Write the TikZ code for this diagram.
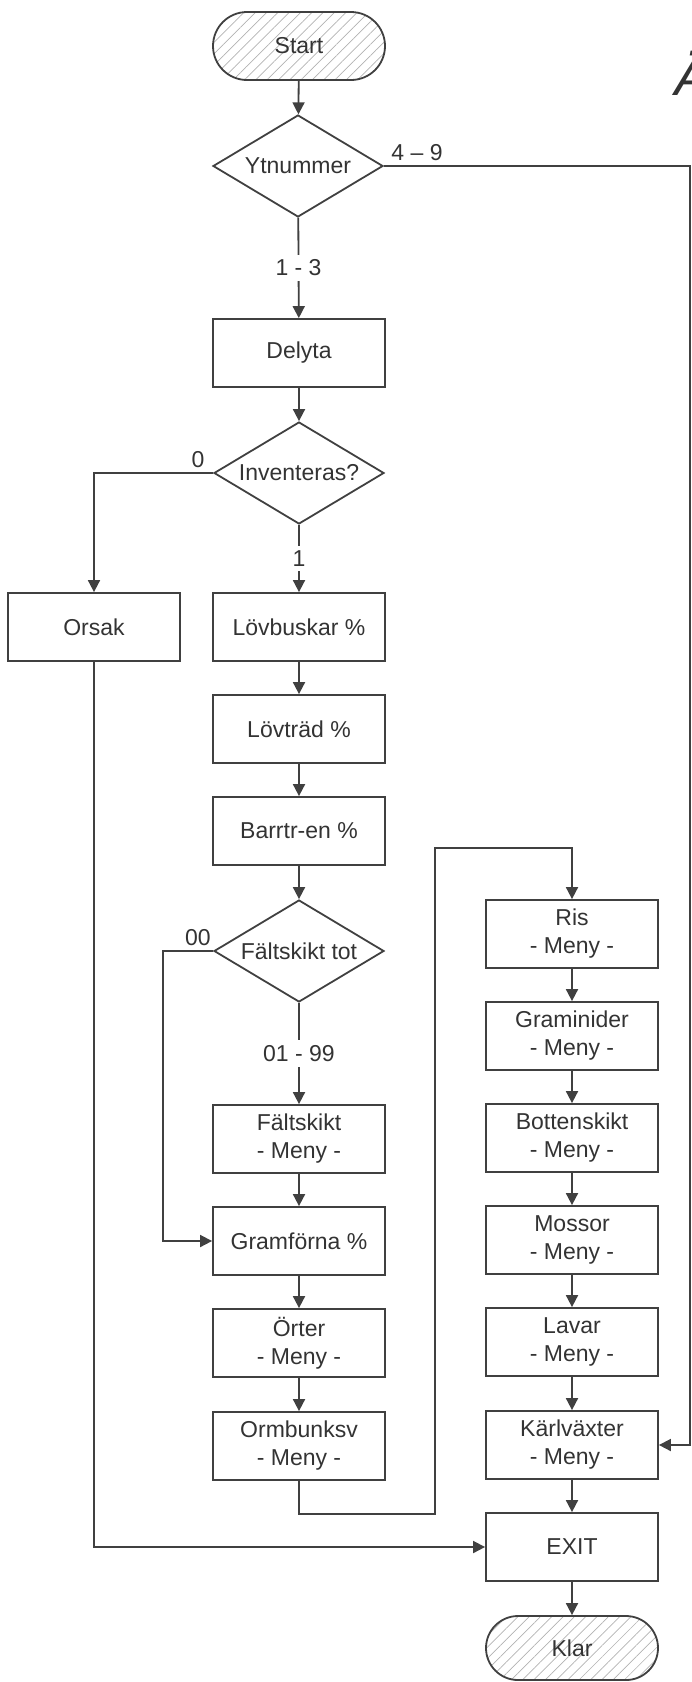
\documentclass[tikz,border=0pt]{standalone}
\usepackage{fontspec}
\setmainfont{Liberation Sans}
\usetikzlibrary{shapes.geometric,arrows.meta,patterns.meta}
\begin{document}
\begin{tikzpicture}[x=1pt,y=-1pt,
  every node/.style={font=\fontsize{23}{28}\selectfont, text=black!80},
  line/.style={draw=black!75, line width=1.8pt},
  arr/.style={line, -{Triangle[length=12pt,width=12pt]}},
  procbox/.style={draw=black!75, line width=1.8pt, rectangle, minimum width=172pt, minimum height=68pt, inner sep=0pt, align=center},
  termbox/.style={procbox, rounded corners=34pt, pattern={Lines[angle=45,distance=8pt,line width=0.7pt]}, pattern color=black!30},
  decbox/.style={draw=black!75, line width=1.8pt, diamond, aspect=1.667, minimum width=170pt, minimum height=102pt, inner sep=0pt},
  lbl/.style={inner sep=5pt, fill=white}
]
\useasboundingbox (0,0) rectangle (692,1682);
\clip (0,0) rectangle (692,1682);

% left / main column
\node[termbox] (start) at (299,46) {Start};
\node[decbox] (yt) at (298,166) {Ytnummer};
\node[procbox] (delyta) at (299,353) {Delyta};
\node[decbox] (inv) at (299,473) {Inventeras?};
\node[procbox] (orsak) at (94,627) {Orsak};
\node[procbox] (lovb) at (299,627) {Lövbuskar \%};
\node[procbox] (lovt) at (299,729) {Lövträd \%};
\node[procbox] (barr) at (299,831) {Barrtr-en \%};
\node[decbox] (falt) at (299,951) {Fältskikt tot};
\node[procbox] (faltm) at (299,1139) {Fältskikt\\- Meny -};
\node[procbox] (gram) at (299,1241) {Gramförna \%};
\node[procbox] (orter) at (299,1343) {Örter\\- Meny -};
\node[procbox] (ormb) at (299,1446) {Ormbunksv\\- Meny -};

% right column
\node[procbox] (ris) at (572,934) {Ris\\- Meny -};
\node[procbox] (gramin) at (572,1036) {Graminider\\- Meny -};
\node[procbox] (botten) at (572,1138) {Bottenskikt\\- Meny -};
\node[procbox] (mossor) at (572,1240) {Mossor\\- Meny -};
\node[procbox] (lavar) at (572,1342) {Lavar\\- Meny -};
\node[procbox] (karl) at (572,1445) {Kärlväxter\\- Meny -};
\node[procbox] (exit) at (572,1547) {EXIT};
\node[termbox, minimum height=64pt, rounded corners=32pt] (klar) at (572,1648) {Klar};

% title fragment
\node[font=\fontsize{53}{60}\selectfont\itshape, anchor=base west, inner sep=0pt] (title) at (674,95) {Ä};

% helper coordinates
\coordinate (c1) at (163,951);
\coordinate (c2) at (435,1514);
\coordinate (c3) at (435,848);
\coordinate (c4) at (690,166);

% connectors
\draw[arr] (start) -- (yt);
\draw[arr] (yt) -- (delyta) node[lbl, midway] {1 - 3};
\draw[arr] (yt.east) -- (c4) |- (karl.east);
\node (l49) at (417,153) {4 \textendash{} 9};
\draw[arr] (delyta) -- (inv);
\draw[arr] (inv) -- (lovb) node[lbl, midway] {1};
\draw[arr] (inv.west) -| (orsak.north);
\node (l0) at (198,460) {0};
\draw[arr] (lovb) -- (lovt);
\draw[arr] (lovt) -- (barr);
\draw[arr] (barr) -- (falt);
\draw[arr] (falt) -- (faltm) node[lbl, midway] {01 - 99};
\draw[arr] (falt.west) -- (c1) |- (gram.west);
\node (l00) at (198,938) {00};
\draw[arr] (faltm) -- (gram);
\draw[arr] (gram) -- (orter);
\draw[arr] (orter) -- (ormb);
\draw[arr] (ormb.south) |- (c2) -- (c3) -| (ris.north);
\draw[arr] (ris) -- (gramin);
\draw[arr] (gramin) -- (botten);
\draw[arr] (botten) -- (mossor);
\draw[arr] (mossor) -- (lavar);
\draw[arr] (lavar) -- (karl);
\draw[arr] (karl) -- (exit);
\draw[arr] (exit) -- (klar);
\draw[arr] (orsak.south) |- (exit.west);
\end{tikzpicture}
\end{document}
